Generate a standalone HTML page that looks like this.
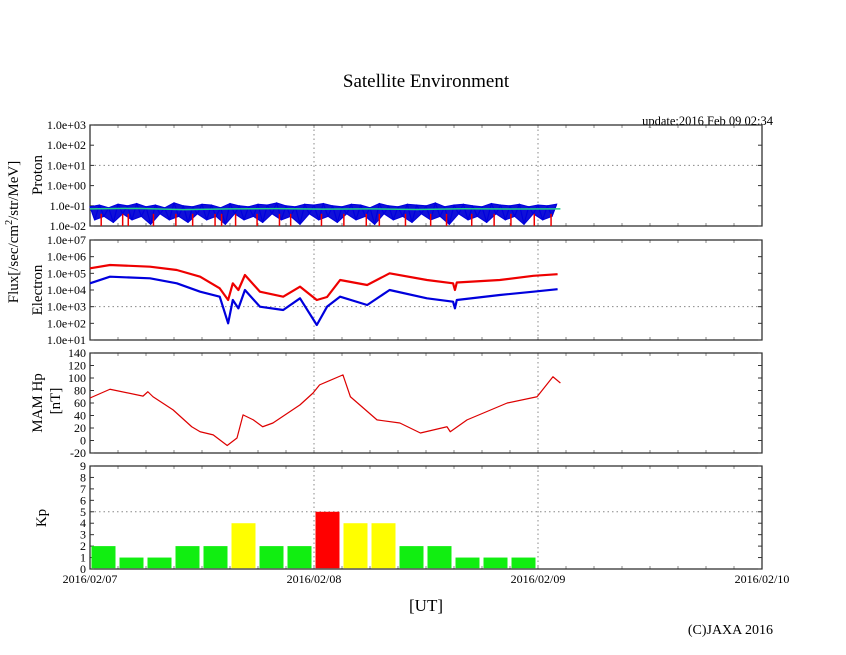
<!DOCTYPE html>
<html><head><meta charset="utf-8"><style>
body{margin:0;background:#fff;}
svg{display:block;font-family:"Liberation Serif",serif;}
</style></head><body>
<svg id="chart" width="846" height="655" viewBox="0 0 846 655" xmlns="http://www.w3.org/2000/svg">
<rect width="846" height="655" fill="#fff"/>
<text x="426" y="87" font-size="19" text-anchor="middle">Satellite Environment</text>
<text x="773" y="125" font-size="12.5" text-anchor="end">update:2016 Feb 09 02:34</text>
<text x="426" y="611" font-size="17" text-anchor="middle">[UT]</text>
<text x="773" y="634" font-size="14" text-anchor="end">(C)JAXA 2016</text>
<g id="layer"></g>
</svg>
<script>
// ---- data ----
const xDayLabels = ["2016/02/07","2016/02/08","2016/02/09","2016/02/10"];
const kpValues = [2,1,1,2,2,4,2,2,5,4,4,2,2,1,1,1];
const hpTimes = [0,2.14,5.68,6.2,6.75,8.9,10.9,11.8,13.2,14.7,15.75,16.4,17.5,18.5,19.6,22.5,23.9,24.6,27.1,27.9,30.75,33.2,35.4,38.25,38.6,40.4,44.7,47.9,49.6,50.4];
const hpValues = [68,82,71,78,70,49,22,14,9,-8,4,41,33,22,28,57,76,89,105,70,33,28,12,22,14,33,60,70,102,92];
const eTimes = [0,2.14,6.43,9.3,11.8,13.9,14.8,15.3,15.9,16.6,18.2,20.7,22.5,24.3,25.4,26.8,29.7,32.1,36.1,38.9,39.1,39.3,43.9,47.5,50.1];
const eRed = [5.3,5.5,5.4,5.2,4.8,4.1,3.4,4.4,4.0,4.9,3.9,3.6,4.2,3.4,3.58,4.6,4.3,5.0,4.6,4.4,4.0,4.45,4.6,4.85,4.95];
const eBlue = [4.4,4.8,4.7,4.4,3.9,3.6,2.0,3.4,2.9,4.0,3.0,2.8,3.5,1.9,3.0,3.6,3.1,4.0,3.5,3.3,2.9,3.4,3.7,3.9,4.05];
const pStep = 0.5;
const pBlue = [0.09,0.02,0.11,0.03,0.08,0.015,0.12,0.04,0.1,0.02,0.13,0.03,0.09,0.012,0.11,0.04,0.08,0.02,0.14,0.03,0.1,0.015,0.09,0.04,0.12,0.02,0.11,0.03,0.08,0.012,0.13,0.04,0.1,0.02,0.09,0.03,0.12,0.015,0.11,0.04,0.14,0.02,0.1,0.03,0.09,0.012,0.12,0.04,0.11,0.02,0.13,0.03,0.1,0.015,0.09,0.04,0.12,0.02,0.11,0.03,0.08,0.012,0.13,0.04,0.1,0.02,0.09,0.03,0.12,0.015,0.11,0.04,0.1,0.02,0.14,0.03,0.09,0.012,0.11,0.04,0.12,0.02,0.1,0.03,0.09,0.015,0.13,0.04,0.11,0.02,0.1,0.03,0.12,0.012,0.09,0.04,0.11,0.02,0.1,0.03,0.12];
const pRedSpikes = [1.2,3.5,4.1,6.8,9.2,11.0,13.4,14.1,15.6,17.9,20.3,21.5,24.8,27.2,29.6,31.0,33.8,36.5,38.2,40.9,43.3,45.1,47.6,49.4];
const pGreenTimes = [0,5,10,15,20,25,30,35,40,45,50.4];
const pGreen = [0.07,0.075,0.065,0.07,0.072,0.068,0.07,0.066,0.071,0.069,0.07];
const protonTicks = ["1.0e-02","1.0e-01","1.0e+00","1.0e+01","1.0e+02","1.0e+03"];
const electronTicks = ["1.0e+01","1.0e+02","1.0e+03","1.0e+04","1.0e+05","1.0e+06","1.0e+07"];
const hpTicks = [-20,0,20,40,60,80,100,120,140];
const kpTicks = [0,1,2,3,4,5,6,7,8,9];

// ---- layout ----
const L=90,R=762;
const xH = h => L + h*(R-L)/72;
const P1={t:125,b:226}, P2={t:240,b:340}, P3={t:353,b:453}, P4={t:466,b:569};
const yP = v => P1.b - (Math.log10(v)+2)*(P1.b-P1.t)/5;
const yE = lg => P2.b - (lg-1)*(P2.b-P2.t)/6;
const yHp = v => P3.b - (v+20)*(P3.b-P3.t)/160;
const yKp = v => P4.b - v*(P4.b-P4.t)/9;
const NS="http://www.w3.org/2000/svg";
const layer=document.getElementById('layer');
function mk(tag,attrs,parent){const e=document.createElementNS(NS,tag);for(const k in attrs)e.setAttribute(k,attrs[k]);(parent||layer).appendChild(e);return e;}

function frame(P,name){
  const g=mk('g',{});
  
  
  for(let d=1;d<=2;d++){ const x=xH(d*24);
    mk('line',{x1:x,x2:x,y1:P.t,y2:P.b,stroke:'#888','stroke-dasharray':'1.5,3','stroke-width':1},g);}
  for(let i=1;i<24;i++){ const x=xH(i*3);
    mk('line',{x1:x,x2:x,y1:P.t,y2:P.t+3,stroke:'#888'},g);
    mk('line',{x1:x,x2:x,y1:P.b,y2:P.b-3,stroke:'#888'},g);}
  mk('rect',{x:L,y:P.t,width:R-L,height:P.b-P.t,fill:'none',stroke:'#222','stroke-width':1.2},g);
  return g;
}
function hgrid(P,y){mk('line',{x1:L,x2:R,y1:y,y2:y,stroke:'#888','stroke-dasharray':'1.5,3'});}
function ytick(y,label,name){
  mk('line',{x1:L,x2:L+4,y1:y,y2:y,stroke:'#333'});
  mk('line',{x1:R,x2:R-4,y1:y,y2:y,stroke:'#333'});
  const t=mk('text',{x:L-4,y:y+4,'font-size':12,'text-anchor':'end'});
  
  
  t.textContent=label;
}
function poly(pts,color,name,w){
  const p=mk('polyline',{points:pts.map(a=>a.join(',')).join(' '),fill:'none',stroke:color,'stroke-width':w||1,'stroke-linejoin':'round'});
  
  
}
function vtitle(x,y,txt,name,size){
  const t=mk('text',{x:x,y:y,'font-size':size||15,'text-anchor':'middle',transform:`rotate(-90 ${x} ${y})`});
  
  
  t.innerHTML=txt;
}

// Panel 1: Proton
frame(P1,'proton-panel');
hgrid(P1,yP(10));
protonTicks.forEach((l,i)=>ytick(yP(Math.pow(10,i-2)),l,'proton-tick'));
// blue band: highs on top, lows on bottom
const topPts=[], botPts=[];
pBlue.forEach((v,i)=>{ if(v>=0.06) topPts.push([xH(i*pStep),yP(v)]); else botPts.push([xH(i*pStep),yP(v)]); });
const band=mk('polygon',{points:topPts.concat(botPts.reverse()).map(a=>a.join(',')).join(' '),fill:'#1010d8',stroke:'#00d','stroke-width':1});


poly(pBlue.map((v,i)=>[xH(i*pStep),yP(v)]),'#00d','proton-blue-line',1.2);
pRedSpikes.forEach(h=>{const e=mk('line',{x1:xH(h),x2:xH(h),y1:yP(0.04),y2:P1.b,stroke:'#e00','stroke-width':1.5});
  
  });
poly(pGreenTimes.map((h,i)=>[xH(h),yP(pGreen[i])]),'#2c8','proton-green-line',1.5);
vtitle(42,P1.t+50,'Proton','proton-axis-title');
vtitle(18,232,'Flux[/sec/cm<tspan font-size="10" dy="-6">2</tspan><tspan dy="6">/str/MeV]</tspan>','flux-axis-title');

// Panel 2: Electron
frame(P2,'electron-panel');
hgrid(P2,yE(3));
electronTicks.forEach((l,i)=>ytick(yE(i+1),l,'electron-tick'));
poly(eTimes.map((h,i)=>[xH(h),yE(eRed[i])]),'#e00','electron-red-line',2.2);
poly(eTimes.map((h,i)=>[xH(h),yE(eBlue[i])]),'#00d','electron-blue-line',2.2);
vtitle(42,P2.t+50,'Electron','electron-axis-title');

// Panel 3: MAM Hp
frame(P3,'hp-panel');
hpTicks.forEach(v=>ytick(yHp(v),String(v),'hp-tick'));
poly(hpTimes.map((h,i)=>[xH(h),yHp(hpValues[i])]),'#d00','hp-line',1.2);
vtitle(42,P3.t+50,'MAM Hp','hp-axis-title');
vtitle(60,P3.t+48,'[nT]','hp-unit-title');

// Panel 4: Kp
frame(P4,'kp-panel');
hgrid(P4,yKp(5));
kpTicks.forEach(v=>ytick(yKp(v),String(v),'kp-tick'));
kpValues.forEach((v,i)=>{
  const c=v>=5?'#f00':(v>=4?'#ff0':'#1e1');
  const r=mk('rect',{x:xH(i*3)+1.5,y:yKp(v),width:xH(3)-L-4,height:P4.b-yKp(v)-0.8,fill:c});
  
  
});
vtitle(46,P4.t+52,'Kp','kp-axis-title');

// x labels
xDayLabels.forEach((l,i)=>{
  const t=mk('text',{x:xH(i*24),y:583,'font-size':12,'text-anchor':'middle'});
  
  
  t.textContent=l;
});
</script>
</body></html>
